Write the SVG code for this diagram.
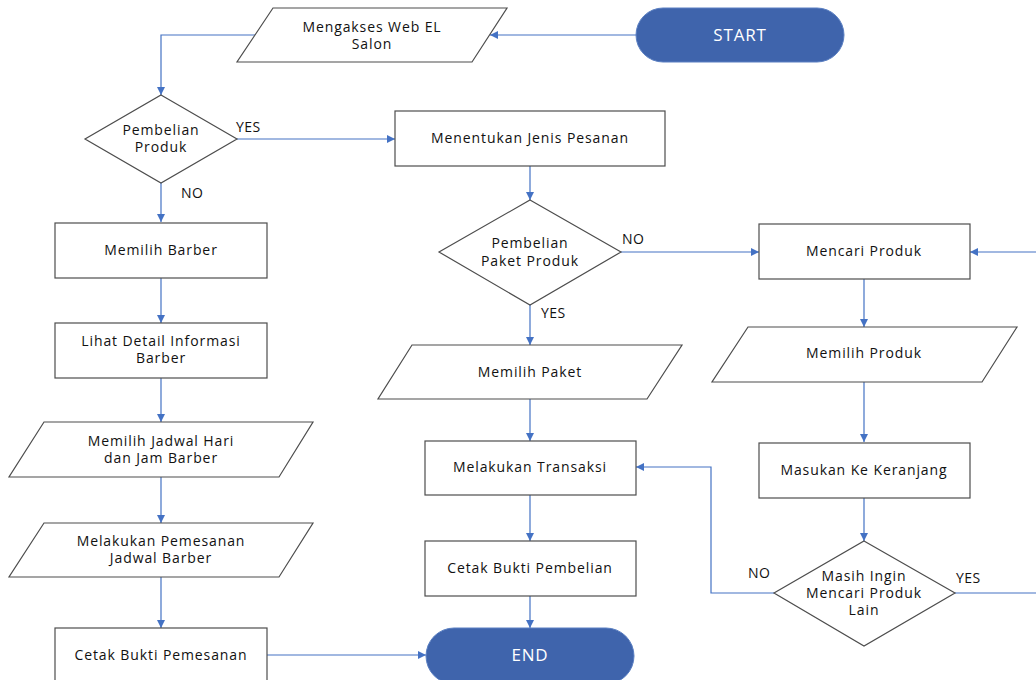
<svg xmlns="http://www.w3.org/2000/svg" width="1036" height="680" viewBox="0 0 1036 680">
  <defs>
    <marker id="arrow" viewBox="0 0 10 10" refX="10" refY="5" markerWidth="8" markerHeight="8" markerUnits="userSpaceOnUse" orient="auto">
      <path d="M0,0 L10,5 L0,10 z" fill="#4472C4"/>
    </marker>
  </defs>
  <style>
    .shape { fill: #ffffff; stroke: #4d4d4d; stroke-width: 1.2; }
    .term { fill: #3F64AC; stroke: #5a7fc2; stroke-width: 1; }
    .lbl { font-family: "Open Sans", "Liberation Sans", sans-serif; font-size: 14px; fill: #111111; text-anchor: middle; letter-spacing: 0.9px; }
    .tlbl { font-family: "Open Sans", "Liberation Sans", sans-serif; font-size: 17px; fill: #ffffff; text-anchor: middle; letter-spacing: 0.8px; }
    .edge { fill: none; stroke: #4472C4; stroke-width: 1.2; }
    .elbl { font-family: "Open Sans", "Liberation Sans", sans-serif; font-size: 14px; fill: #111111; letter-spacing: 0.5px; }
  </style>
  <rect width="1036" height="680" fill="#ffffff"/>

  <!-- connectors -->
  <g id="connectors">
    <path class="edge" d="M636,35 L490,35" marker-end="url(#arrow)"/>
    <path class="edge" d="M255,35 L161,35 L161,95" marker-end="url(#arrow)"/>
    <path class="edge" d="M237,139 L395,139" marker-end="url(#arrow)"/>
    <path class="edge" d="M161,183 L161,222" marker-end="url(#arrow)"/>
    <path class="edge" d="M161,278 L161,323" marker-end="url(#arrow)"/>
    <path class="edge" d="M161,378 L161,422" marker-end="url(#arrow)"/>
    <path class="edge" d="M161,477 L161,523" marker-end="url(#arrow)"/>
    <path class="edge" d="M161,577 L161,628" marker-end="url(#arrow)"/>
    <path class="edge" d="M267,655 L426,655" marker-end="url(#arrow)"/>
    <path class="edge" d="M530,166 L530,200" marker-end="url(#arrow)"/>
    <path class="edge" d="M621,252 L759,252" marker-end="url(#arrow)"/>
    <path class="edge" d="M530,305 L530,345" marker-end="url(#arrow)"/>
    <path class="edge" d="M530,399 L530,441" marker-end="url(#arrow)"/>
    <path class="edge" d="M530,495 L530,541" marker-end="url(#arrow)"/>
    <path class="edge" d="M530,596 L530,628" marker-end="url(#arrow)"/>
    <path class="edge" d="M1036,252 L970,252" marker-end="url(#arrow)"/>
    <path class="edge" d="M864,279 L864,327" marker-end="url(#arrow)"/>
    <path class="edge" d="M864,382 L864,442" marker-end="url(#arrow)"/>
    <path class="edge" d="M864,498 L864,541" marker-end="url(#arrow)"/>
    <path class="edge" d="M774,593 L711,593 L711,467 L636,467" marker-end="url(#arrow)"/>
    <path class="edge" d="M955,593 L1036,593"/>
    <text class="elbl" x="236" y="132">YES</text>
    <text class="elbl" x="181" y="198">NO</text>
    <text class="elbl" x="622" y="244">NO</text>
    <text class="elbl" x="541" y="318">YES</text>
    <text class="elbl" x="748" y="578">NO</text>
    <text class="elbl" x="956" y="583">YES</text>
  </g>

  <g id="start">
    <rect class="term" x="636" y="8" width="208" height="54" rx="27"/>
    <text class="tlbl" x="740" y="41">START</text>
  </g>

  <g id="mengakses-web">
    <polygon class="shape" points="273,8 507,8 472,62 237,62"/>
    <text class="lbl" x="372" y="32">Mengakses Web EL</text>
    <text class="lbl" x="372" y="49">Salon</text>
  </g>

  <g id="pembelian-produk">
    <polygon class="shape" points="161,95 237,139 161,183 85,139"/>
    <text class="lbl" x="161" y="135">Pembelian</text>
    <text class="lbl" x="161" y="152">Produk</text>
  </g>

  <g id="menentukan-jenis">
    <rect class="shape" x="395" y="111" width="270" height="55"/>
    <text class="lbl" x="530" y="143">Menentukan Jenis Pesanan</text>
  </g>

  <g id="memilih-barber">
    <rect class="shape" x="55" y="223" width="212" height="55"/>
    <text class="lbl" x="161" y="255">Memilih Barber</text>
  </g>

  <g id="lihat-detail">
    <rect class="shape" x="55" y="323" width="212" height="55"/>
    <text class="lbl" x="161" y="346">Lihat Detail Informasi</text>
    <text class="lbl" x="161" y="363">Barber</text>
  </g>

  <g id="memilih-jadwal">
    <polygon class="shape" points="44,422 313,422 279,477 9,477"/>
    <text class="lbl" x="161" y="446">Memilih Jadwal Hari</text>
    <text class="lbl" x="161" y="463">dan Jam Barber</text>
  </g>

  <g id="melakukan-pemesanan">
    <polygon class="shape" points="44,523 313,523 279,577 9,577"/>
    <text class="lbl" x="161" y="546">Melakukan Pemesanan</text>
    <text class="lbl" x="161" y="563">Jadwal Barber</text>
  </g>

  <g id="cetak-pemesanan">
    <rect class="shape" x="55" y="628" width="212" height="60"/>
    <text class="lbl" x="161" y="660">Cetak Bukti Pemesanan</text>
  </g>

  <g id="pembelian-paket">
    <polygon class="shape" points="530,200 621,252 530,305 439,252"/>
    <text class="lbl" x="530" y="248">Pembelian</text>
    <text class="lbl" x="530" y="266">Paket Produk</text>
  </g>

  <g id="memilih-paket">
    <polygon class="shape" points="412,345 682,345 647,399 378,399"/>
    <text class="lbl" x="530" y="377">Memilih Paket</text>
  </g>

  <g id="melakukan-transaksi">
    <rect class="shape" x="425" y="441" width="211" height="54"/>
    <text class="lbl" x="530" y="472">Melakukan Transaksi</text>
  </g>

  <g id="cetak-pembelian">
    <rect class="shape" x="425" y="541" width="211" height="55"/>
    <text class="lbl" x="530" y="573">Cetak Bukti Pembelian</text>
  </g>

  <g id="end">
    <rect class="term" x="426" y="628" width="208" height="56" rx="28"/>
    <text class="tlbl" x="530" y="661">END</text>
  </g>

  <g id="mencari-produk">
    <rect class="shape" x="759" y="224" width="211" height="55"/>
    <text class="lbl" x="864" y="256">Mencari Produk</text>
  </g>

  <g id="memilih-produk">
    <polygon class="shape" points="748,327 1017,327 982,382 712,382"/>
    <text class="lbl" x="864" y="358">Memilih Produk</text>
  </g>

  <g id="masukan-keranjang">
    <rect class="shape" x="759" y="443" width="211" height="55"/>
    <text class="lbl" x="864" y="475">Masukan Ke Keranjang</text>
  </g>

  <g id="masih-ingin">
    <polygon class="shape" points="864,541 955,593 864,646 774,593"/>
    <text class="lbl" x="864" y="581">Masih Ingin</text>
    <text class="lbl" x="864" y="598">Mencari Produk</text>
    <text class="lbl" x="864" y="615">Lain</text>
  </g>
</svg>
